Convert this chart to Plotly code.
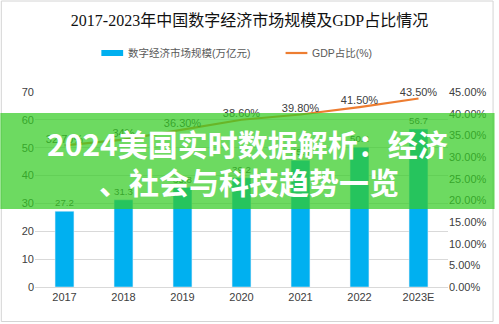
import plotly.graph_objects as go

years = ["2017", "2018", "2019", "2020", "2021", "2022", "2023E"]
market_size = [27.2, 31.3, 35.8, 39.2, 45.5, 50.2, 56.7]
gdp_share = [32.7, 34.0, 36.3, 38.6, 39.8, 41.5, 43.5]
gdp_labels = ["32.70%", "34%", "36.30%", "38.60%", "39.80%", "41.50%", "43.50%"]
series_names = ["数字经济市场规模(万亿元)", "GDP占比(%)"]
series_colors = ["#00B0F0", "#ED7D31"]

W, H = 499, 324
L, R, T, B = 35, 47, 92, 37
PW, PH = W - L - R, H - T - B

def px(x):
    return (x - L) / PW

def py(y):
    return (H - B - y) / PH

fig = go.Figure()
fig.add_trace(go.Bar(
    x=years, y=market_size, name=series_names[0],
    marker_color=series_colors[0], text=[str(v) for v in market_size],
    textposition="outside", cliponaxis=False,
    textfont=dict(size=11, color="#404040", family="Liberation Sans, Noto Sans CJK SC"),
    yaxis="y", showlegend=False,
))
fig.add_trace(go.Scatter(
    x=years, y=gdp_share, name=series_names[1], mode="lines+text",
    line=dict(color=series_colors[1], width=2.2), text=gdp_labels,
    textposition="top center", cliponaxis=False,
    textfont=dict(size=11, color="#404040", family="Liberation Sans, Noto Sans CJK SC"),
    yaxis="y2", showlegend=False,
))

font_sans = "Liberation Sans, Noto Sans CJK SC"
fig.update_layout(
    width=W, height=H,
    margin=dict(l=L, r=R, t=T, b=B, pad=0),
    paper_bgcolor="white", plot_bgcolor="white",
    font=dict(family=font_sans, size=10, color="#595959"),
    title=dict(text="2017-2023年中国数字经济市场规模及GDP占比情况",
               x=0.5, xanchor="center", y=1 - 20 / H, yanchor="middle",
               font=dict(family="Liberation Serif, Noto Sans CJK SC", size=16, color="#111111")),
    showlegend=False,
    bargap=0.68,
    xaxis=dict(showgrid=False, showline=True, linecolor="#d9d9d9", ticks="",
               tickfont=dict(size=11, color="#404040"), fixedrange=True),
    yaxis=dict(range=[0, 70], dtick=10, showgrid=True, gridcolor="#d9d9d9",
               zeroline=False, ticks="", tickfont=dict(size=11, color="#404040")),
    yaxis2=dict(range=[0, 45], dtick=5, overlaying="y", side="right",
                showgrid=False, zeroline=False, tickformat=".2f", ticksuffix="%",
                tickfont=dict(size=11, color="#404040")),
)

# manual legend
fig.add_shape(type="rect", xref="paper", yref="paper",
              x0=px(102), x1=px(124), y0=py(56), y1=py(50),
              line=dict(width=0), fillcolor=series_colors[0])
fig.add_annotation(text=series_names[0], xref="paper", yref="paper",
                   x=px(127), y=py(53), xanchor="left", yanchor="middle",
                   showarrow=False, font=dict(size=10.5, color="#595959"))
fig.add_shape(type="line", xref="paper", yref="paper",
              x0=px(288), x1=px(310), y0=py(53), y1=py(53),
              line=dict(width=2.2, color=series_colors[1]))
fig.add_annotation(text=series_names[1], xref="paper", yref="paper",
                   x=px(313), y=py(53), xanchor="left", yanchor="middle",
                   showarrow=False, font=dict(size=10.5, color="#595959"))

# frame around image
fig.add_shape(type="rect", xref="paper", yref="paper",
              x0=px(1), x1=px(497.5), y0=py(321.5), y1=py(1),
              line=dict(color="#d4d4d4", width=1), fillcolor="rgba(0,0,0,0)", layer="above")
# green overlay band
fig.add_shape(type="rect", xref="paper", yref="paper",
              x0=px(0), x1=px(W), y0=py(209), y1=py(113),
              line=dict(width=0), fillcolor="rgba(52,204,36,0.72)", layer="above")

big_font = dict(family="Noto Sans CJK SC", size=30, color="white", weight="bold")
fig.add_annotation(text="2024美国实时数据解析：经济", xref="paper", yref="paper",
                   x=px(250), y=py(143), xanchor="center", yanchor="middle",
                   showarrow=False, font=big_font)
fig.add_annotation(text="、社会与科技趋势一览", xref="paper", yref="paper",
                   x=px(251), y=py(181), xanchor="center", yanchor="middle",
                   showarrow=False, font=big_font)

fig.write_html("out.html")
